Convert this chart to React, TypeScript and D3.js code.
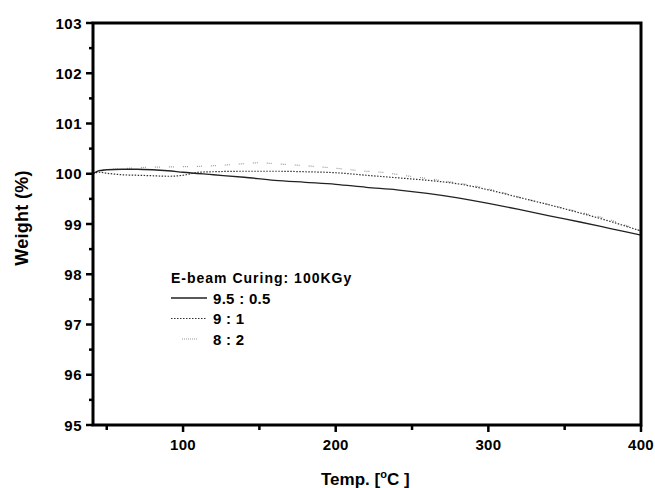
import React from "react";
import * as d3 from "d3";

const temps1 = [41, 45, 50, 60, 70, 80, 90, 100, 120, 140, 160, 180, 200, 220, 240, 260, 280, 300, 320, 340, 360, 380, 400];
const series1 = [100.0, 100.06, 100.08, 100.09, 100.09, 100.08, 100.06, 100.03, 99.98, 99.93, 99.87, 99.83, 99.79, 99.73, 99.68, 99.61, 99.52, 99.41, 99.29, 99.16, 99.04, 98.91, 98.78];

const temps2 = [41, 45, 50, 60, 70, 80, 90, 100, 105, 110, 120, 140, 160, 180, 200, 220, 240, 260, 280, 300, 320, 340, 360, 380, 400];
const series2 = [100.0, 100.03, 100.01, 99.98, 99.97, 99.96, 99.95, 99.97, 100.0, 100.03, 100.04, 100.05, 100.05, 100.04, 100.02, 99.97, 99.92, 99.87, 99.8, 99.68, 99.53, 99.38, 99.22, 99.05, 98.86];

const temps3 = [45, 50, 60, 70, 80, 100, 120, 140, 150, 160, 180, 200, 220, 230, 244, 266, 294, 327, 358, 380, 400];
const series3 = [100.05, 100.08, 100.1, 100.12, 100.13, 100.14, 100.16, 100.2, 100.22, 100.2, 100.16, 100.11, 100.05, 100.03, 99.97, 99.88, 99.74, 99.48, 99.25, 99.08, 98.86];

const xMajor = [100, 200, 300, 400];
const xMinor = [50, 150, 250, 350];
const yMajor = [95, 96, 97, 98, 99, 100, 101, 102, 103];
const yMinor = [95.5, 96.5, 97.5, 98.5, 99.5, 100.5, 101.5, 102.5];

const legendTitle = "E-beam Curing: 100KGy";
const legendLabels = ["9.5 : 0.5", "9 : 1", "8 : 2"];

export default function App() {
  const W = 655, H = 488;
  const left = 93, right = 641, top = 23, bottom = 425;
  const x = d3.scaleLinear().domain([41, 400]).range([left, right]);
  const y = d3.scaleLinear().domain([95, 103]).range([bottom, top]);
  const line = d3.line<[number, number]>().x(d => x(d[0])).y(d => y(d[1])).curve(d3.curveMonotoneX);
  const d1 = line(temps1.map((t, i) => [t, series1[i]] as [number, number])) || "";
  const d2 = line(temps2.map((t, i) => [t, series2[i]] as [number, number])) || "";
  const d3p = line(temps3.map((t, i) => [t, series3[i]] as [number, number])) || "";
  const font = "Arial, 'Liberation Sans', sans-serif";
  const styles = [
    { stroke: "#222", dash: "none", w: 1.3 },
    { stroke: "#333", dash: "1.5,1.5", w: 1.2 },
    { stroke: "#999", dash: "1,1,1,1,1,9", w: 1.2 },
  ];
  return (
    <svg width={W} height={H} style={{ position: "absolute", left: 0, top: 0, background: "#fff" }} fontFamily={font}>
      <rect x={0} y={0} width={W} height={H} fill="#fff" />
      <path d={d3p} fill="none" stroke={styles[2].stroke} strokeWidth={styles[2].w} strokeDasharray={styles[2].dash} />
      <path d={d2} fill="none" stroke={styles[1].stroke} strokeWidth={styles[1].w} strokeDasharray={styles[1].dash} />
      <path d={d1} fill="none" stroke={styles[0].stroke} strokeWidth={styles[0].w} />
      <rect x={left} y={top} width={right - left} height={bottom - top} fill="none" stroke="#000" strokeWidth={3} />
      {yMajor.map(v => (
        <g key={"ym" + v}>
          <line x1={left - 7} x2={left} y1={y(v)} y2={y(v)} stroke="#000" strokeWidth={2.5} />
          <text x={82} y={y(v) + 5.5} textAnchor="end" fontSize={15} fontWeight="bold" letterSpacing={0.5}>{v}</text>
        </g>
      ))}
      {yMinor.map(v => (
        <line key={"yn" + v} x1={left - 4} x2={left} y1={y(v)} y2={y(v)} stroke="#000" strokeWidth={2.5} />
      ))}
      {xMajor.map(v => (
        <g key={"xm" + v}>
          <line x1={x(v)} x2={x(v)} y1={bottom} y2={bottom + 7} stroke="#000" strokeWidth={2.5} />
          <text x={x(v)} y={450} textAnchor="middle" fontSize={15} fontWeight="bold" letterSpacing={0.3}>{v}</text>
        </g>
      ))}
      {xMinor.map(v => (
        <line key={"xn" + v} x1={x(v)} x2={x(v)} y1={bottom} y2={bottom + 5} stroke="#000" strokeWidth={2.5} />
      ))}
      <text transform="translate(28,218) rotate(-90)" textAnchor="middle" fontSize={18} fontWeight="bold" letterSpacing={0.3}>Weight (%)</text>
      <text x={321} y={485} fontSize={17} fontWeight="bold">
        Temp. [<tspan dy={-7} fontSize={11}>o</tspan><tspan dy={7}>C ]</tspan>
      </text>
      <text x={171} y={283} fontSize={14} fontWeight="bold" letterSpacing={1}>{legendTitle}</text>
      {legendLabels.map((lab, i) => {
        const ly = 298 + i * 20.5;
        const s = styles[i];
        const x1 = i === 2 ? 182 : 171;
        const x2 = i === 2 ? 197 : 207;
        return (
          <g key={lab}>
            <line x1={x1} x2={x2} y1={ly} y2={ly} stroke={s.stroke} strokeWidth={s.w} strokeDasharray={i === 2 ? "1,1" : s.dash} />
            <text x={213} y={ly + 5.5} fontSize={15} fontWeight="bold" letterSpacing={0.3}>{lab}</text>
          </g>
        );
      })}
    </svg>
  );
}
